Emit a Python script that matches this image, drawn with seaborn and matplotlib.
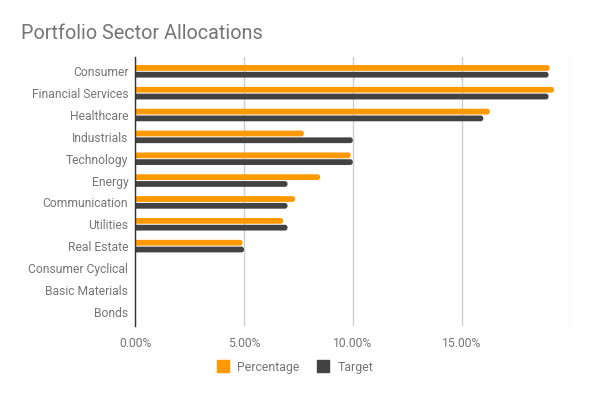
import matplotlib
matplotlib.use("Agg")
import matplotlib.pyplot as plt
from matplotlib.lines import Line2D
from matplotlib.patches import FancyBboxPatch
import pandas as pd
import seaborn as sns

sectors = [
    "Consumer", "Financial Services", "Healthcare", "Industrials", "Technology",
    "Energy", "Communication", "Utilities", "Real Estate", "Consumer Cyclical",
    "Basic Materials", "Bonds",
]
percentage = [19.05, 19.25, 16.3, 7.75, 9.9, 8.5, 7.35, 6.8, 4.93, 0, 0, 0]
target = [19.0, 19.0, 16.0, 10.0, 10.0, 7.0, 7.0, 7.0, 5.0, 0, 0, 0]
series_names = ["Percentage", "Target"]
series_colors = ["#ff9900", "#424242"]
x_ticks = [0, 5, 10, 15, 20]
x_labels = ["0.00%", "5.00%", "10.00%", "15.00%", ""]

df = pd.DataFrame({
    "sector": sectors * 2,
    "value": percentage + target,
    "series": [series_names[0]] * len(sectors) + [series_names[1]] * len(sectors),
})

sns.set_theme(style="white")
plt.rcParams["font.family"] = ["Roboto", "DejaVu Sans"]
text_gray = "#757575"

fig = plt.figure(figsize=(5.9, 3.95), dpi=100)
ax = fig.add_axes([0.2293, 0.1747, 0.7373, 0.681])

sns.barplot(
    data=df, y="sector", x="value", hue="series", orient="h",
    palette=dict(zip(series_names, series_colors)), order=sectors,
    width=0.62, gap=0.15, legend=False, ax=ax, saturation=1,
)

# swap the square bars for ones with a rounded end (x and y scales are ~equal px/unit)
radius = 0.12
for bar in list(ax.patches):
    x0, y0 = bar.get_x(), bar.get_y()
    w, h = bar.get_width(), bar.get_height()
    bar.remove()
    if w <= 0:
        continue
    ax.add_patch(FancyBboxPatch(
        (x0 - 2 * radius, y0), w + 2 * radius, h,
        boxstyle=f"round,pad=0,rounding_size={radius}",
        facecolor=bar.get_facecolor(), edgecolor="none", zorder=2,
    ))

ax.set_xlim(0, 20)
ax.set_ylim(len(sectors) - 1 + 0.655, -0.655)
ax.set_xticks(x_ticks)
ax.set_xticklabels(x_labels)
ax.grid(axis="x", color="#cccccc", linewidth=1, zorder=0)
ax.set_axisbelow(True)
ax.tick_params(axis="both", length=0, labelsize=8.7, labelcolor=text_gray)
ax.tick_params(axis="x", pad=8)
ax.tick_params(axis="y", pad=5)
ax.set_xlabel("")
ax.set_ylabel("")
for side in ["top", "right", "bottom"]:
    ax.spines[side].set_visible(False)
ax.spines["left"].set_color("#333333")
ax.spines["left"].set_linewidth(1)
ax.spines["left"].set_zorder(3)

fig.text(21 / 590, 1 - 39 / 395, "Portfolio Sector Allocations",
         fontsize=14.3, color=text_gray, ha="left", va="baseline")

handles = [
    Line2D([], [], marker="s", linestyle="none", markersize=8.6,
           markerfacecolor=c, markeredgecolor=c, label=n)
    for n, c in zip(series_names, series_colors)
]
leg = fig.legend(handles=handles, loc="center", bbox_to_anchor=(0.5, 1 - 367 / 395),
                 ncol=2, frameon=False, fontsize=8.8, handletextpad=0.7,
                 columnspacing=1.4, handlelength=1.0)
for t in leg.get_texts():
    t.set_color(text_gray)

fig.savefig("out.png", dpi=100)
